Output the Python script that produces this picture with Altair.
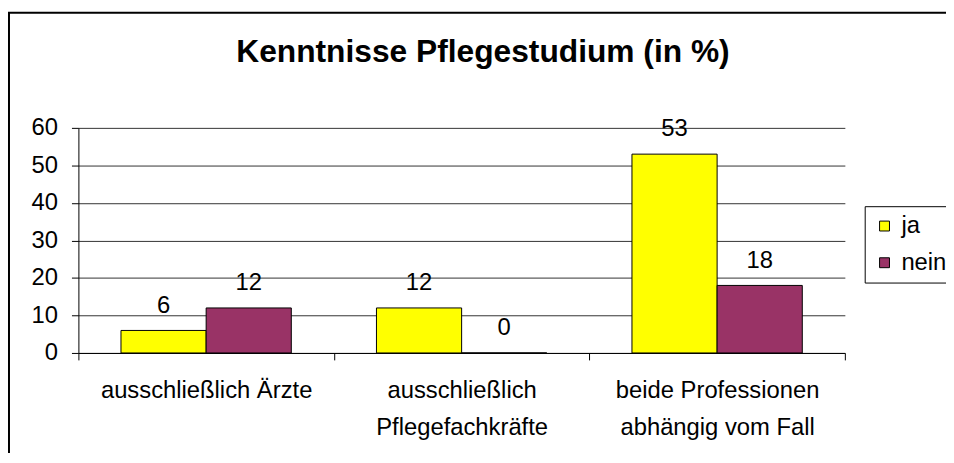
import altair as alt
import pandas as pd

# ---- data ----
categories = ["ausschließlich Ärzte", "ausschließlich|Pflegefachkräfte", "beide Professionen|abhängig vom Fall"]
series = ["ja", "nein"]
ja_values = [6, 12, 53]
nein_values = [12, 0, 18]
y_ticks = [0, 10, 20, 30, 40, 50, 60]
colors = ["#FFFF00", "#993366"]
title_text = "Kenntnisse Pflegestudium (in %)"

rows = []
for c, j, n in zip(categories, ja_values, nein_values):
    rows.append({"kategorie": c, "antwort": "ja", "wert": j})
    rows.append({"kategorie": c, "antwort": "nein", "wert": n})
df = pd.DataFrame(rows)

FONT = "Liberation Sans"
W, H = 773, 227

x = alt.X(
    "kategorie:N",
    sort=categories,
    scale=alt.Scale(paddingInner=0, paddingOuter=0),
    axis=alt.Axis(
        title=None,
        labelAngle=0,
        labelExpr="split(datum.label, '|')",
        tickBand="extent",
        tickSize=7,
        tickColor="black",
        domainColor="black",
        labelPadding=19,
        labelBaseline="top",
        labelLineHeight=37,
        labelLimit=400,
        labelFontSize=24,
    ),
)
xo = alt.XOffset("antwort:N", sort=series, scale=alt.Scale(paddingInner=0, paddingOuter=0.5))
y = alt.Y(
    "wert:Q",
    scale=alt.Scale(domain=[0, 60], nice=False),
    axis=alt.Axis(
        title=None,
        values=y_ticks,
        grid=True,
        gridColor="#333333",
        gridWidth=1,
        tickSize=7,
        tickColor="black",
        domainColor="black",
        labelPadding=14,
        labelFontSize=24,
    ),
)

bars = alt.Chart(df).mark_bar(stroke="black", strokeWidth=1).encode(
    x=x,
    xOffset=xo,
    y=y,
    color=alt.Color(
        "antwort:N",
        sort=series,
        scale=alt.Scale(domain=series, range=colors),
        legend=alt.Legend(
            title=None,
            orient="none",
            legendX=793,
            legendY=79,
            padding=8,
            strokeColor="black",
            fillColor="white",
            symbolType="square",
            symbolSize=100,
            symbolStrokeColor="black",
            symbolStrokeWidth=1,
            labelFontSize=24,
            rowPadding=13,
            labelOffset=5,
            labelExpr="datum.label + '      '",
        ),
    ),
)

labels = alt.Chart(df).mark_text(dy=-25, fontSize=24, font=FONT, color="black", baseline="middle").encode(
    x=x, xOffset=xo, y=y, text="wert:Q"
)

one = pd.DataFrame({"a": [0]})
frame = alt.Chart(one).mark_rect(fillOpacity=0, stroke="black", strokeWidth=2).encode(
    x=alt.value(-70), x2=alt.value(900), y=alt.value(-116), y2=alt.value(360)
)
title = alt.Chart(one).mark_text(
    text=title_text, font=FONT, fontSize=32, fontWeight="bold", align="center", baseline="alphabetic", color="black"
).encode(x=alt.value(408), y=alt.value(-66))

chart = (
    alt.layer(frame, bars, labels, title)
    .properties(
        width=W,
        height=H,
        padding={"left": 71, "top": 119, "right": 102, "bottom": 99},
        autosize=alt.AutoSizeParams(type="none"),
        background="white",
    )
    .configure_view(strokeWidth=0)
    .configure_axis(labelFont=FONT, labelColor="black")
    .configure_legend(labelFont=FONT, labelColor="black")
)

chart.save("out.html", embed_options={"renderer": "svg", "actions": False})
